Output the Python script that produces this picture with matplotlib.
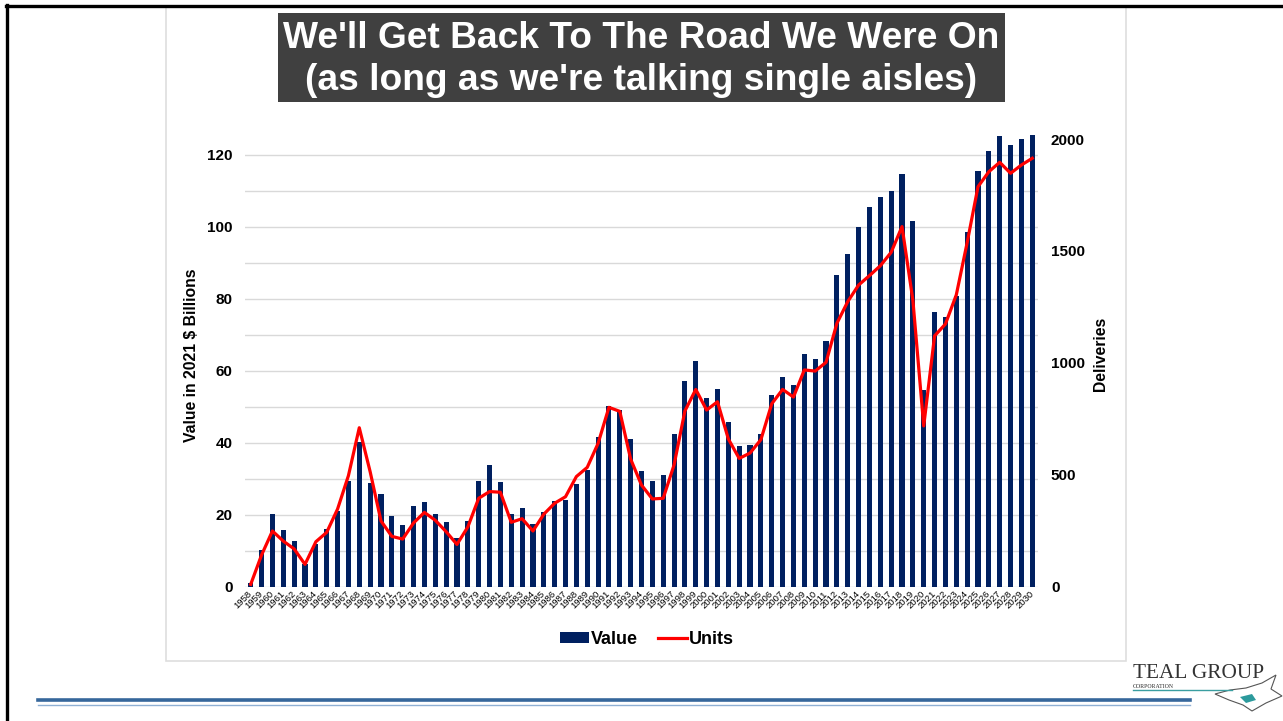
import matplotlib
matplotlib.use("Agg")
import matplotlib.pyplot as plt
from matplotlib.patches import Rectangle, Polygon, Patch
from matplotlib.lines import Line2D
import numpy as np

plt.rcParams['font.family'] = ['Liberation Sans', 'DejaVu Sans']

# ---- data -------------------------------------------------------------
years = list(range(1958, 2031))

value_bn = [
    1.0, 10.3, 20.2, 15.9, 12.7, 6.3, 12.0, 16.1, 21.1, 29.4,      # 1958-1967
    40.4, 28.9, 25.9, 19.7, 17.3, 22.5, 23.5, 20.2, 18.1, 13.6,    # 1968-1977
    18.3, 29.4, 33.9, 29.1, 20.4, 21.9, 17.5, 20.8, 23.8, 24.2,    # 1978-1987
    28.5, 32.5, 41.7, 50.4, 49.3, 41.0, 32.1, 29.4, 31.2, 42.4,    # 1988-1997
    57.1, 62.7, 52.4, 55.1, 45.7, 39.2, 39.4, 42.6, 53.4, 58.4,    # 1998-2007
    56.1, 64.6, 63.2, 68.2, 86.6, 92.4, 100.0, 105.5, 108.3, 110.0,  # 2008-2017
    114.6, 101.6, 54.8, 76.3, 75.1, 80.8, 98.7, 115.6, 121.2, 125.2,  # 2018-2027
    122.7, 124.4, 125.6,                                           # 2028-2030
]

units = [
    12, 143, 250, 205, 170, 101, 202, 244, 348, 497,               # 1958-1967
    711, 515, 295, 226, 214, 286, 333, 298, 247, 190,              # 1968-1977
    268, 396, 426, 423, 289, 305, 250, 325, 374, 403,              # 1978-1987
    493, 534, 641, 802, 784, 571, 455, 393, 396, 545,              # 1988-1997
    786, 882, 790, 827, 661, 574, 598, 658, 818, 882,              # 1998-2007
    848, 969, 964, 1003, 1177, 1274, 1348, 1390, 1434, 1494,       # 2008-2017
    1609, 1281, 719, 1121, 1174, 1304, 1537, 1787, 1854, 1896,     # 2018-2027
    1847, 1884, 1914,                                              # 2028-2030
]

title_lines = ["We'll Get Back To The Road We Were On",
               "(as long as we're talking single aisles)"]
left_ticks = [0, 20, 40, 60, 80, 100, 120]
right_ticks = [0, 500, 1000, 1500, 2000]

# ---- figure -----------------------------------------------------------
W, H = 1283, 721
fig = plt.figure(figsize=(W / 100, H / 100), dpi=100)
fig.patch.set_facecolor('white')


def fx(x):
    return x / W


def fy(y):
    return 1 - y / H


# slide frame: black edges on left and top
fig.add_artist(Line2D([fx(7), fx(7)], [fy(5), fy(721)], color='black', lw=2.4))
fig.add_artist(Line2D([fx(6), fx(1283)], [fy(6), fy(6)], color='black', lw=2.4))

# light chart-area border
fig.add_artist(Rectangle((fx(166), fy(661)), fx(1126) - fx(166), fy(7) - fy(661),
                         facecolor='none', edgecolor='#dedede', lw=1.2))

# title block
fig.add_artist(Rectangle((fx(278), fy(102)), fx(1005) - fx(278), fy(13) - fy(102),
                         facecolor='#404040', edgecolor='none'))
fig.text(fx(641.5), fy(38), title_lines[0], ha='center', va='center',
         color='white', fontsize=26.7, fontweight='bold')
fig.text(fx(641.5), fy(80), title_lines[1], ha='center', va='center',
         color='white', fontsize=26.7, fontweight='bold')

# ---- plot area ----------------------------------------------------------
left_px, right_px, top_px, bot_px = 245.3, 1037.7, 119, 587
ax = fig.add_axes([fx(left_px), fy(bot_px), fx(right_px) - fx(left_px),
                   fy(top_px) - fy(bot_px)])
x = np.arange(len(years))
ax.bar(x, value_bn, width=0.47, color='#002060', zorder=3, label='Value')
ax.set_xlim(-0.5, len(years) - 0.5)
ax.set_ylim(0, 130)
ax.set_yticks(left_ticks)
ax.set_yticks(np.arange(10, 130, 20), minor=True)
ax.grid(axis='y', which='both', color='#d9d9d9', lw=1.0, zorder=0)
ax.set_axisbelow(True)
for s in ax.spines.values():
    s.set_visible(False)
ax.tick_params(axis='y', which='both', length=0, pad=9, labelsize=11)
for t in ax.get_yticklabels():
    t.set_fontweight('bold')
ax.set_xticks(x)
ax.set_xticklabels([str(y) for y in years], rotation=45, ha='right',
                   va='center', rotation_mode='anchor', fontsize=6.8)
ax.tick_params(axis='x', length=0, pad=4)

ax2 = ax.twinx()
ax2.plot(x, units, color='#ff0000', lw=2.3, zorder=4, label='Units',
         solid_joinstyle='round')
ax2.set_ylim(0, 130 * (500 / 112) * (72 / 20))
ax2.set_yticks(right_ticks)
for s in ax2.spines.values():
    s.set_visible(False)
ax2.tick_params(axis='y', length=0, pad=9.5, labelsize=11)
for t in ax2.get_yticklabels():
    t.set_fontweight('bold')

fig.text(fx(192), fy(355), 'Value in 2021 $ Billions', rotation=90,
         ha='center', va='center', fontsize=11.3, fontweight='bold')
fig.text(fx(1100), fy(354), 'Deliveries', rotation=90,
         ha='center', va='center', fontsize=11.3, fontweight='bold')

# legend
handles = [Patch(facecolor='#002060', edgecolor='none'),
           Line2D([0], [0], color='#ff0000', lw=2.3)]
fig.legend(handles, ['Value', 'Units'], loc='center', ncol=2,
           bbox_to_anchor=(fx(647), fy(639)), frameon=False,
           prop={'size': 13, 'weight': 'bold'}, handlelength=1.6,
           handleheight=0.55, handletextpad=0.1, columnspacing=1.1)

# ---- footer rule ---------------------------------------------------------
fig.add_artist(Line2D([fx(38), fx(1190)], [fy(700), fy(700)], color='#36679b', lw=2.6))
fig.add_artist(Line2D([fx(38), fx(1190)], [fy(704.5), fy(704.5)], color='#8fb0d4', lw=1.0))

# company mark
fig.text(fx(1133), fy(674), 'TEAL GROUP', ha='left', va='center',
         family=['Liberation Serif', 'DejaVu Serif'], fontsize=15.3, color='#333333')
fig.text(fx(1133), fy(686), 'CORPORATION', ha='left', va='center',
         family=['Liberation Serif', 'DejaVu Serif'], fontsize=4.2, color='#2b2b2b')
fig.add_artist(Line2D([fx(1133), fx(1232)], [fy(690), fy(690)], color='#3a9ea0', lw=1.0))
bird = [(1215, 694), (1230, 690), (1246, 688), (1262, 683), (1276, 675),
        (1271, 689), (1282, 696), (1266, 703), (1252, 711), (1243, 705), (1229, 700)]
fig.add_artist(Polygon([(fx(a), fy(b)) for a, b in bird], closed=True,
                       facecolor='white', edgecolor='#555555', lw=0.8))
teal = [(1240, 697), (1252, 694), (1256, 700), (1246, 703)]
fig.add_artist(Polygon([(fx(a), fy(b)) for a, b in teal], closed=True,
                       facecolor='#2c9a9c', edgecolor='none'))

fig.savefig('out.png', dpi=100)
